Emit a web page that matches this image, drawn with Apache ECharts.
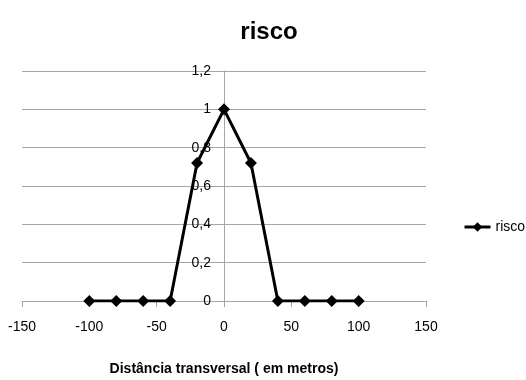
<!DOCTYPE html>
<html>
<head>
<meta charset="utf-8">
<script src="https://cdn.jsdelivr.net/npm/echarts@6/dist/echarts.min.js"></script>
<style>
  html, body { margin: 0; padding: 0; background: #fff; }
  #chart { width: 526px; height: 380px; }
</style>
</head>
<body>
<div id="chart"></div>
<script>
// Risk profile across the transverse distance
const distances = [-100, -80, -60, -40, -20, 0, 20, 40, 60, 80, 100];
const risco = [0, 0, 0, 0, 0.72, 1, 0.72, 0, 0, 0, 0];
const seriesName = 'risco';
const xTitle = 'Distância transversal ( em metros)';

const FONT = '"Liberation Sans", sans-serif';
const GRID = { left: 22, right: 100, top: 71, bottom: 79 };
const plotWidth = 526 - GRID.left - GRID.right;

const chart = echarts.init(document.getElementById('chart'));
chart.setOption({
  animation: false,
  textStyle: { fontFamily: FONT },
  title: {
    text: 'risco',
    left: 264,
    textAlign: 'center',
    top: 15,
    textStyle: { fontFamily: FONT, fontSize: 24, fontWeight: 'bold', color: '#000' }
  },
  legend: {
    left: 463,
    top: 220,
    padding: 0,
    itemWidth: 26,
    itemHeight: 12,
    itemGap: 0,
    lineStyle: { width: 3, color: '#000' },
    textStyle: { fontFamily: FONT, fontSize: 14, color: '#000' },
    data: [seriesName]
  },
  grid: Object.assign({ outerBoundsMode: 'none', containLabel: false }, GRID),
  xAxis: {
    type: 'value',
    min: -150,
    max: 150,
    interval: 50,
    axisLine: { lineStyle: { color: '#a6a6a6', width: 1 } },
    axisTick: { show: true, length: 6, lineStyle: { color: '#a6a6a6' } },
    axisLabel: { fontFamily: FONT, fontSize: 14, color: '#000', margin: 19 },
    splitLine: { show: false },
    name: xTitle,
    nameLocation: 'middle',
    nameGap: 61,
    nameTextStyle: { fontFamily: FONT, fontSize: 14, fontWeight: 'bold', color: '#000' }
  },
  yAxis: {
    type: 'value',
    min: 0,
    max: 1.2,
    interval: 0.2,
    // the vertical axis (line and labels) sits at x = 0, the middle of the plot
    offset: -plotWidth / 2,
    axisLine: { show: true, onZero: false, lineStyle: { color: '#a6a6a6', width: 1 } },
    axisTick: { show: false },
    axisLabel: {
      fontFamily: FONT, fontSize: 14, color: '#000', margin: 13,
      formatter: v => String(Math.round(v * 10) / 10).replace('.', ',')
    },
    splitLine: { show: true, lineStyle: { color: '#a6a6a6', width: 1 } }
  },
  series: [{
    name: seriesName,
    type: 'line',
    data: distances.map((d, i) => [d, risco[i]]),
    symbol: 'diamond',
    symbolSize: 12,
    itemStyle: { color: '#000' },
    lineStyle: { color: '#000', width: 3 },
    z: 5
  }]
});
</script>
</body>
</html>
